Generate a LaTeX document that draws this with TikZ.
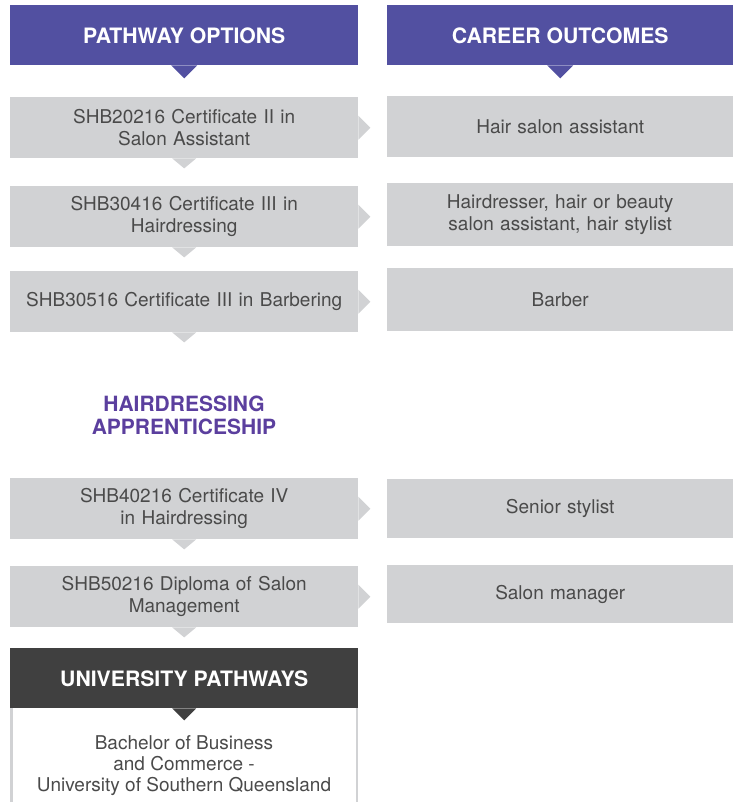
\documentclass[tikz,border=0pt]{standalone}
\usepackage{fontspec}
\setmainfont{TeX Gyre Heros}
\definecolor{hdr}{HTML}{5250A1}
\definecolor{boxg}{HTML}{D1D2D4}
\definecolor{txt}{HTML}{4A4A4A}
\definecolor{ttl}{HTML}{5B3F9E}
\definecolor{dark}{HTML}{404040}
\begin{document}
\begin{tikzpicture}[x=1pt,y=-1pt,
  hdrbox/.style={fill=hdr,text=white,font=\fontsize{21.2}{24}\selectfont\bfseries,minimum width=348pt,minimum height=60pt,inner sep=0pt,anchor=north west,text height=17pt},
  gbox/.style={fill=boxg,text=txt,font=\fontsize{19}{22}\selectfont,align=center,minimum height=61pt,inner sep=0pt,anchor=north west,text width=340pt},
  lbox/.style={gbox,minimum width=348pt},
  rbox/.style={gbox,minimum width=346pt},
  uline/.style={text=txt,font=\fontsize{19}{21}\selectfont,inner sep=0pt,anchor=base}]
\useasboundingbox (0,0) rectangle (733,802);
% headers
\node[hdrbox] (hl) at (10,5) {PATHWAY OPTIONS};
\node[hdrbox,minimum width=346pt] (hr) at (387,5) {CAREER OUTCOMES};
\fill[hdr] ([xshift=-13pt]hl.south) -- ([xshift=13pt]hl.south) -- ([yshift=-13pt]hl.south) -- cycle;
\fill[hdr] ([xshift=-13pt]hr.south) -- ([xshift=13pt]hr.south) -- ([yshift=-13pt]hr.south) -- cycle;
% left boxes
\node[lbox] (l1) at (10,97) {SHB20216 Certificate II in\\Salon Assistant};
\node[lbox] (l2) at (10,186) {SHB30416 Certificate III in\\Hairdressing};
\node[lbox] (l3) at (10,271) {SHB30516 Certificate III in Barbering};
\node[lbox] (l4) at (10,478) {SHB40216 Certificate IV\\in Hairdressing};
\node[lbox] (l5) at (10,566) {SHB50216 Diploma of Salon\\Management};
% right boxes
\node[rbox] (r1) at (387,96) {Hair salon assistant};
\node[rbox,minimum height=63pt] (r2) at (387,183) {Hairdresser, hair or beauty\\salon assistant, hair stylist};
\node[rbox,minimum height=63pt] (r3) at (387,268) {Barber};
\node[rbox,minimum height=59pt] (r4) at (387,479) {Senior stylist};
\node[rbox,minimum height=58pt] (r5) at (387,565) {Salon manager};
% pointers
\foreach \n in {l1,l2,l3,l4,l5}{
  \fill[boxg] ([xshift=-12pt]\n.south) -- ([xshift=12pt]\n.south) -- ([yshift=-10pt]\n.south) -- cycle;
  \fill[boxg] ([yshift=-12pt]\n.east) -- ([yshift=12pt]\n.east) -- ([xshift=12pt]\n.east) -- cycle;
}
% apprenticeship title
\node[text=ttl,font=\fontsize{21}{23}\selectfont\bfseries,align=center] (ap) at (184,415) {HAIRDRESSING\\APPRENTICESHIP};
% university
\node[hdrbox,fill=dark] (uh) at (10,648) {UNIVERSITY PATHWAYS};
\draw[boxg,line width=2.5pt] (11.25,708) -- (11.25,802) (356.75,708) -- (356.75,802);
\fill[dark] ([xshift=-12pt]uh.south) -- ([xshift=12pt]uh.south) -- ([yshift=-12pt]uh.south) -- cycle;
\node[uline] (ub1) at (184,749) {Bachelor of Business};
\node[uline] (ub2) at (184,770) {and Commerce -};
\node[uline] (ub3) at (184,791) {University of Southern Queensland};
\end{tikzpicture}
\end{document}
